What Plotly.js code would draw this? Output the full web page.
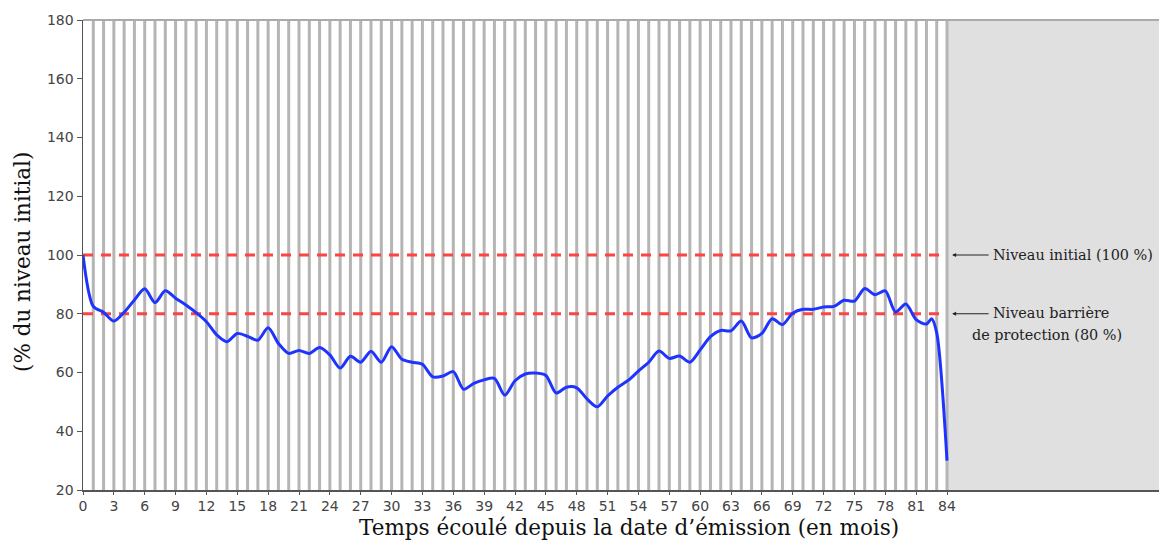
<!DOCTYPE html>
<html>
<head>
<meta charset="utf-8">
<script src="https://cdn.plot.ly/plotly-3.0.1.min.js"></script>
<style>html,body{margin:0;padding:0;background:#fff;}#chart{width:1159px;height:540px;}</style>
</head>
<body>
<div id="chart"></div>
<script>
// Months elapsed (x) and level in % of initial level (y)
const months = [0,1,2,3,4,5,6,7,8,9,10,11,12,13,14,15,16,17,18,19,20,21,22,23,24,25,26,27,28,29,30,31,32,33,34,35,36,37,38,39,40,41,42,43,44,45,46,47,48,49,50,51,52,53,54,55,56,57,58,59,60,61,62,63,64,65,66,67,68,69,70,71,72,73,74,75,76,77,78,79,80,81,82,82.5,83,84];
const levelPct = [100,82.5,80.5,77.5,80.5,84.7,88.5,83.8,87.8,85.3,83,80.4,77.3,72.8,70.5,73.3,72.3,71,75.2,69.9,66.5,67.5,66.5,68.5,66,61.5,65.5,63.5,67.2,63.5,68.8,64.5,63.5,62.8,58.5,58.8,60.3,54.3,56.3,57.5,58,52.3,57.2,59.5,59.8,59,53,55,54.8,51,48.3,52,55,57.3,60.5,63.5,67.3,64.8,65.6,63.5,67.7,72.2,74.3,74.2,77.5,71.8,73.3,78.3,76.3,80.2,81.5,81.5,82.3,82.5,84.6,84.3,88.6,86.5,87.8,80.6,83.3,78,76.5,78.3,73.5,30];
const gridMonths = [1,2,3,4,5,6,7,8,9,10,11,12,13,14,15,16,17,18,19,20,21,22,23,24,25,26,27,28,29,30,31,32,33,34,35,36,37,38,39,40,41,42,43,44,45,46,47,48,49,50,51,52,53,54,55,56,57,58,59,60,61,62,63,64,65,66,67,68,69,70,71,72,73,74,75,76,77,78,79,80,81,82,83,84];
const xTicks = [0,3,6,9,12,15,18,21,24,27,30,33,36,39,42,45,48,51,54,57,60,63,66,69,72,75,78,81,84];
const yTicks = [20,40,60,80,100,120,140,160,180];
const initialLevel = 100;
const barrierLevel = 80;
const xTitle = 'Temps écoulé depuis la date d’émission (en mois)';
const yTitle = '(% du niveau initial)';
const labelInitial = 'Niveau initial (100 %)';
const labelBarrier1 = 'Niveau barrière';
const labelBarrier2 = 'de protection (80 %)';

const xStart = months[0];
const xEnd = months[months.length - 1];
const xMax = 104.61;

// Vertical monthly lines built from gridMonths
const vx = [], vy = [];
gridMonths.forEach(m => { vx.push(m, m, null); vy.push(yTicks[0], yTicks[yTicks.length - 1], null); });

const traces = [
  {x: vx, y: vy, mode: 'lines', line: {color: '#b5b5b5', width: 3}, hoverinfo: 'skip', showlegend: false},
  {x: [xStart, xEnd], y: [initialLevel, initialLevel], mode: 'lines', line: {color: '#ff4343', width: 3, dash: '10px,8px'}, showlegend: false},
  {x: [xStart, xEnd], y: [barrierLevel, barrierLevel], mode: 'lines', line: {color: '#ff4343', width: 3, dash: '10px,8px'}, showlegend: false},
  {x: months, y: levelPct, mode: 'lines', line: {color: '#1f33ff', width: 3, shape: 'spline', smoothing: 0.8}, showlegend: false}
];

const serif = '"DejaVu Serif", serif';
const annFont = {family: serif, size: 14.4, color: '#222'};
const titleFont = {family: serif, size: 21.5, color: '#111'};
const layout = {
  width: 1159, height: 540,
  margin: {l: 83, r: 0, t: 20, b: 50},
  paper_bgcolor: '#fff', plot_bgcolor: '#fff',
  showlegend: false,
  xaxis: {
    range: [0, xMax], tickmode: 'array', tickvals: xTicks, ticktext: xTicks.map(String),
    showgrid: false, zeroline: false, showline: true, linecolor: '#555', linewidth: 1.5,
    ticks: 'outside', ticklen: 3, tickcolor: '#555',
    tickfont: {family: '"DejaVu Sans", sans-serif', size: 14, color: '#444'}
  },
  yaxis: {
    range: [20, 180], tickmode: 'array', tickvals: yTicks, ticktext: yTicks.map(String),
    showgrid: false, zeroline: false, showline: true, linecolor: '#555', linewidth: 1.5,
    ticks: 'outside', ticklen: 5, tickcolor: '#555',
    tickfont: {family: '"DejaVu Sans", sans-serif', size: 14, color: '#444'}
  },
  shapes: [
    {type: 'rect', xref: 'x', yref: 'paper', x0: xEnd, x1: xMax, y0: 0, y1: 1, fillcolor: '#e0e0e0', line: {width: 0}, layer: 'below'},
    {type: 'line', xref: 'paper', yref: 'paper', x0: 0, x1: 1, y0: 1, y1: 1, line: {color: '#aaa', width: 2}}
  ],
  annotations: [
    {x: 0.5074, y: 0, xref: 'paper', yref: 'paper', text: xTitle, showarrow: false, xanchor: 'center', yanchor: 'middle', yshift: -37, font: titleFont},
    {x: 0, y: 0.5, xref: 'paper', yref: 'paper', text: yTitle, showarrow: false, xanchor: 'center', yanchor: 'middle', xshift: -61, yshift: -7, textangle: -90, font: titleFont},
    {x: xEnd + 0.5, y: initialLevel, xref: 'x', yref: 'y', text: '', showarrow: true, ax: 38, ay: 0, arrowhead: 2, arrowsize: 0.8, arrowwidth: 1, arrowcolor: '#222'},
    {x: xEnd + 0.5, y: barrierLevel, xref: 'x', yref: 'y', text: '', showarrow: true, ax: 38, ay: 0, arrowhead: 2, arrowsize: 0.8, arrowwidth: 1, arrowcolor: '#222'},
    {x: xEnd + 4.3, y: initialLevel, xref: 'x', yref: 'y', text: labelInitial, showarrow: false, xanchor: 'left', yanchor: 'middle', font: annFont},
    {x: xEnd + 4.3, y: barrierLevel, xref: 'x', yref: 'y', text: labelBarrier1, showarrow: false, xanchor: 'left', yanchor: 'middle', yshift: 1, font: annFont},
    {x: xEnd + 9.7, y: barrierLevel, xref: 'x', yref: 'y', text: labelBarrier2, showarrow: false, xanchor: 'center', yanchor: 'middle', yshift: -21, font: annFont}
  ]
};

Plotly.newPlot('chart', traces, layout, {displayModeBar: false, staticPlot: true});
</script>
</body>
</html>
